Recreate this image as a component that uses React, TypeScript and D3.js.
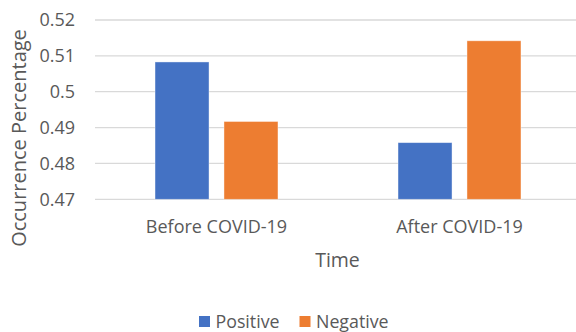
import React from "react";
import * as d3 from "d3";

const categories = ["Before COVID-19", "After COVID-19"];
const seriesNames = ["Positive", "Negative"];
const positive = [0.5083, 0.4858];
const negative = [0.4917, 0.5142];
const yTicks = [0.47, 0.48, 0.49, 0.5, 0.51, 0.52];
const colors = ["#4472C4", "#ED7D31"];

const W = 576;
const H = 332;
const FONT = "'Open Sans', sans-serif";
const TXT = "#595959";

export default function App() {
  const left = 95, right = 581, top = 20, bottom = 199.3;
  const y = d3.scaleLinear().domain([0.47, 0.52]).range([bottom, top]);
  const x0 = d3.scaleBand<string>().domain(categories).range([left, right]).paddingInner(0.494).paddingOuter(0.247);
  const x1 = d3.scaleBand<string>().domain(seriesNames).range([0, x0.bandwidth()]).paddingInner(0.217).paddingOuter(0);
  const values = [positive, negative];

  return (
    <svg width={W} height={H} style={{ position: "absolute", left: 0, top: 0, background: "#fff" }} fontFamily={FONT}>
      {yTicks.map((t) => (
        <g key={t}>
          <line x1={left} x2={right} y1={y(t)} y2={y(t)} stroke="#D9D9D9" strokeWidth={1.3} />
          <text x={75} y={y(t)} dy="0.36em" textAnchor="end" fontSize={18} fill={TXT}>
            {d3.format("")(+t.toFixed(2))}
          </text>
        </g>
      ))}
      {categories.map((c, i) => (
        <g key={c} transform={`translate(${x0(c)},0)`}>
          {seriesNames.map((s, j) => (
            <rect
              key={s}
              x={x1(s)}
              y={y(values[j][i])}
              width={x1.bandwidth()}
              height={y(0.47) - y(values[j][i])}
              fill={colors[j]}
              stroke="#ffffff"
              strokeOpacity={0.5}
              strokeWidth={0.8}
            />
          ))}
          <text x={x0.bandwidth() / 2} y={233} textAnchor="middle" fontSize={18} fill={TXT}>
            {c}
          </text>
        </g>
      ))}
      <text x={337.5} y={267} textAnchor="middle" fontSize={19.5} fill={TXT}>Time</text>
      <text transform={`translate(26,138) rotate(-90)`} textAnchor="middle" fontSize={20} fill={TXT}>
        Occurrence Percentage
      </text>
      {seriesNames.map((s, j) => {
        const lx = [199, 299.5][j];
        return (
          <g key={s}>
            <rect x={lx} y={316} width={11} height={11} fill={colors[j]} />
            <text x={lx + 16.5} y={328} fontSize={17.8} fill={TXT}>{s}</text>
          </g>
        );
      })}
    </svg>
  );
}
